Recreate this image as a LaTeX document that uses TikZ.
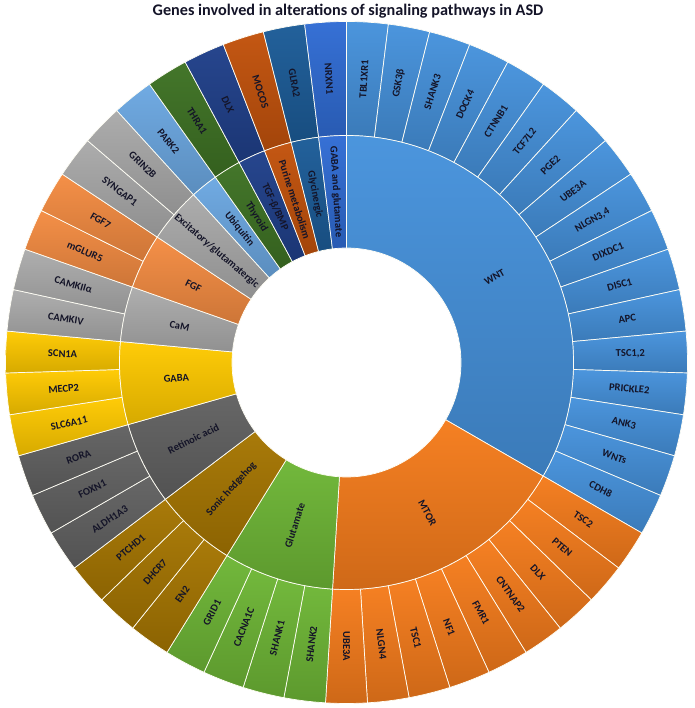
\documentclass[tikz,border=0pt]{standalone}
\usepackage{fontspec}
\setmainfont{Carlito}
\definecolor{wnt}{RGB}{70,146,220}
\definecolor{mtor}{RGB}{245,124,28}
\definecolor{glut}{RGB}{110,182,54}
\definecolor{shh}{RGB}{166,118,2}
\definecolor{ret}{RGB}{98,98,98}
\definecolor{gaba}{RGB}{255,202,0}
\definecolor{cam}{RGB}{172,172,172}
\definecolor{fgf}{RGB}{244,140,66}
\definecolor{exc}{RGB}{170,170,170}
\definecolor{ubi}{RGB}{108,168,226}
\definecolor{thy}{RGB}{62,114,36}
\definecolor{tgf}{RGB}{32,64,138}
\definecolor{pur}{RGB}{194,82,12}
\definecolor{gly}{RGB}{28,92,152}
\definecolor{gg}{RGB}{48,108,212}
\definecolor{txt}{RGB}{20,20,40}
\newcommand{\ringseg}[5]{%
  \path[segline, top color=#5!97!white, bottom color=#5!84!black]
    (#3:#2) arc[start angle=#3, end angle=#4, radius=#2]
    -- (#4:#1) arc[start angle=#4, end angle=#3, radius=#1] -- cycle;}
\begin{document}
\begin{tikzpicture}[x=1pt,y=1pt,
  segline/.style={draw=white!96!yellow, line width=0.7pt, line join=round},
  lbl/.style={font=\bfseries\fontsize{10.5}{12}\selectfont, text=txt, inner sep=0pt}]
\useasboundingbox (-346.5,-345.5) rectangle (347.5,362.5);
\def\Rin{114.5}\def\Rmid{227}\def\Rout{341}
\def\stp{7.0588235}
% outer ring: genes
\foreach \i/\g/\c in {0/TBL1XR1/wnt,1/GSK3β/wnt,2/SHANK3/wnt,3/DOCK4/wnt,4/CTNNB1/wnt,
  5/TCF7L2/wnt,6/PGE2/wnt,7/UBE3A/wnt,8/{NLGN3,4}/wnt,9/DIXDC1/wnt,10/DISC1/wnt,
  11/APC/wnt,12/{TSC1,2}/wnt,13/PRICKLE2/wnt,14/ANK3/wnt,15/WNTs/wnt,16/CDH8/wnt,
  17/TSC2/mtor,18/PTEN/mtor,19/DLX/mtor,20/CNTNAP2/mtor,21/FMR1/mtor,22/NF1/mtor,
  23/TSC1/mtor,24/NLGN4/mtor,25/UBE3A/mtor,
  26/SHANK2/glut,27/SHANK1/glut,28/CACNA1C/glut,29/GRID1/glut,
  30/EN2/shh,31/DHCR7/shh,32/PTCHD1/shh,
  33/ALDH1A3/ret,34/FOXN1/ret,35/RORA/ret,
  36/SLC6A11/gaba,37/MECP2/gaba,38/SCN1A/gaba,
  39/CAMKIV/cam,40/CAMKIIα/cam,
  41/mGLUR5/fgf,42/FGF7/fgf,
  43/SYNGAP1/exc,44/GRIN2B/exc,
  45/PARK2/ubi,46/THRA1/thy,47/DLX/tgf,48/MOCOS/pur,49/GLRA2/gly,50/NRXN1/gg}{
  \pgfmathsetmacro\aA{90-\i*\stp}
  \pgfmathsetmacro\aB{90-(\i+1)*\stp}
  \pgfmathsetmacro\am{90-(\i+0.5)*\stp}
  \pgfmathsetmacro\rot{\am>-90.01 ? \am : \am+180}
  \ringseg{\Rmid}{\Rout}{\aA}{\aB}{\c}
  \node[lbl, rotate=\rot] (g\i) at (\am:284) {\g};
}
% inner ring: pathways
\foreach \s/\n/\lab/\c in {0/17/WNT/wnt,17/9/MTOR/mtor,26/4/Glutamate/glut,
  30/3/Sonic hedgehog/shh,33/3/Retinoic acid/ret,36/3/GABA/gaba,39/2/CaM/cam,
  41/2/FGF/fgf,43/2/Excitatory\slash glutamatergic/exc,45/1/Ubiquitin/ubi,
  46/1/Thyroid/thy,47/1/TGF-β\slash BMP/tgf,48/1/Purine metabolism/pur,
  49/1/Glycinergic/gly,50/1/GABA and glutamate/gg}{
  \pgfmathsetmacro\aA{90-\s*\stp}
  \pgfmathsetmacro\aB{90-(\s+\n)*\stp}
  \pgfmathsetmacro\am{90-(\s+0.5*\n)*\stp}
  \pgfmathsetmacro\rot{\am>-90.01 ? \am : \am+180}
  \ringseg{\Rin}{\Rmid}{\aA}{\aB}{\c}
  \node[lbl, rotate=\rot] (p\s) at (\am:171) {\lab};
}
\node[font=\bfseries\fontsize{16.2}{18}\selectfont, text=txt] (title) at (1.5,351.5)
  {Genes involved in alterations of signaling pathways in ASD};
\end{tikzpicture}
\end{document}
